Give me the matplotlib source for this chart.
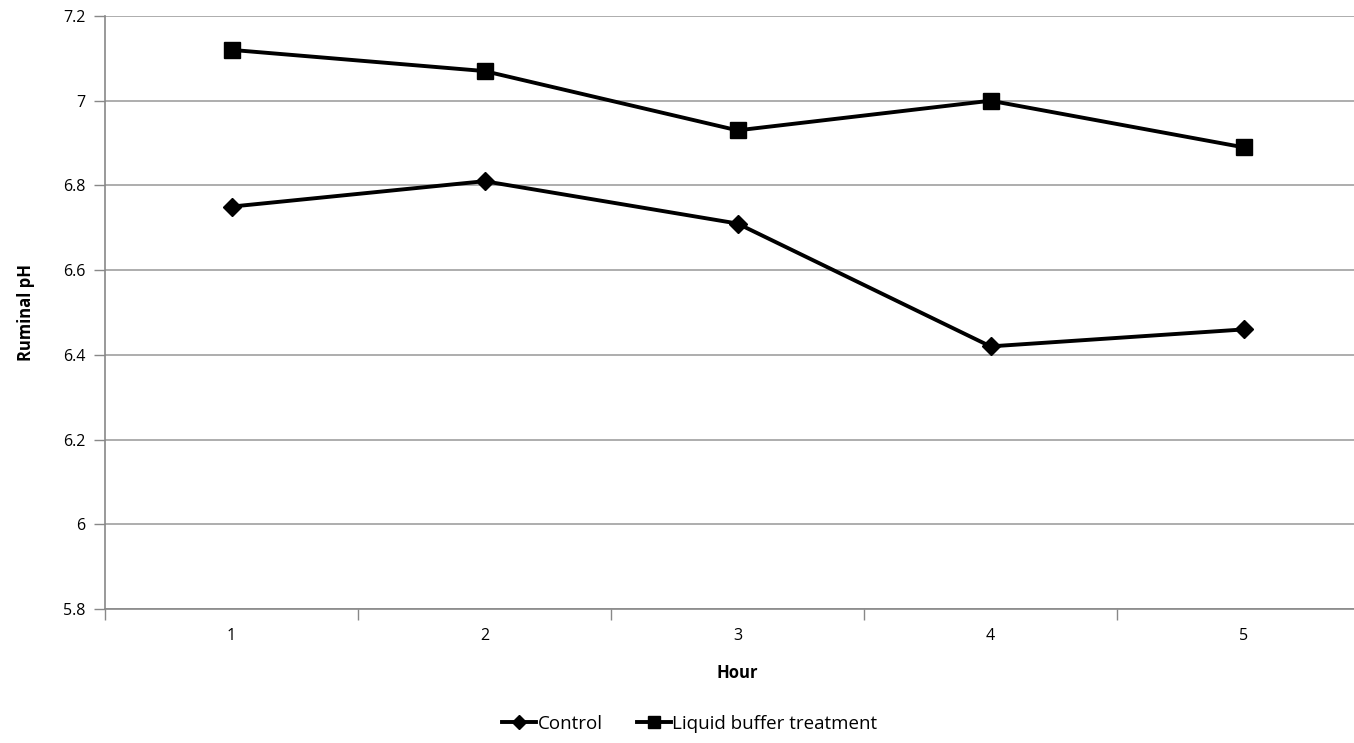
import matplotlib.pyplot as plt
from matplotlib.ticker import FixedLocator

hours = [1, 2, 3, 4, 5]
control = [6.75, 6.81, 6.71, 6.42, 6.46]
buffer_trt = [7.12, 7.07, 6.93, 7.00, 6.89]
yticks = [5.8, 6, 6.2, 6.4, 6.6, 6.8, 7, 7.2]
ytick_labels = ['5.8', '6', '6.2', '6.4', '6.6', '6.8', '7', '7.2']

plt.rcParams['font.family'] = ['Open Sans', 'DejaVu Sans']

fig = plt.figure(figsize=(13.54, 7.43), dpi=100)
# plot area runs past the right edge of the picture, as in the source
ax = fig.add_axes([105/1354, (743-609)/743, 1265/1354, (609-16)/743])

ax.plot(hours, control, color='black', lw=2.8, marker='D', markersize=9, label='Control')
ax.plot(hours, buffer_trt, color='black', lw=2.8, marker='s', markersize=11.5,
        label='Liquid buffer treatment')

ax.set_xlim(0.5, 5.5)
ax.set_ylim(5.8, 7.2)
ax.set_yticks(yticks)
ax.set_yticklabels(ytick_labels)
ax.set_xticks(hours)
ax.xaxis.set_minor_locator(FixedLocator([0.5, 1.5, 2.5, 3.5, 4.5, 5.5]))
ax.tick_params(axis='x', which='major', length=0, pad=14, labelsize=11.5)
ax.tick_params(axis='x', which='minor', length=8, color='#888888', width=1)
ax.tick_params(axis='y', length=8, color='#888888', width=1, labelsize=11.5, pad=6)
ax.grid(axis='y', color='#a0a0a0', lw=1.2)
ax.set_axisbelow(True)
for s in ['top', 'right']:
    ax.spines[s].set_visible(False)
ax.spines['left'].set_color('#888888')
ax.spines['bottom'].set_color('#888888')
ax.spines['left'].set_linewidth(1.2)
ax.spines['bottom'].set_linewidth(1.2)

ax.set_xlabel('Hour', fontsize=12, fontweight='bold', labelpad=14)
ax.set_ylabel('Ruminal pH', fontsize=12, fontweight='bold', labelpad=20)

fig.legend(loc='center', bbox_to_anchor=(690/1354, 1 - 724/743), ncol=2, frameon=False,
           fontsize=13.5, handlelength=1.8, handletextpad=0.1, columnspacing=1.8,
           markerscale=0.75)

fig.savefig('out.png', dpi=100)
